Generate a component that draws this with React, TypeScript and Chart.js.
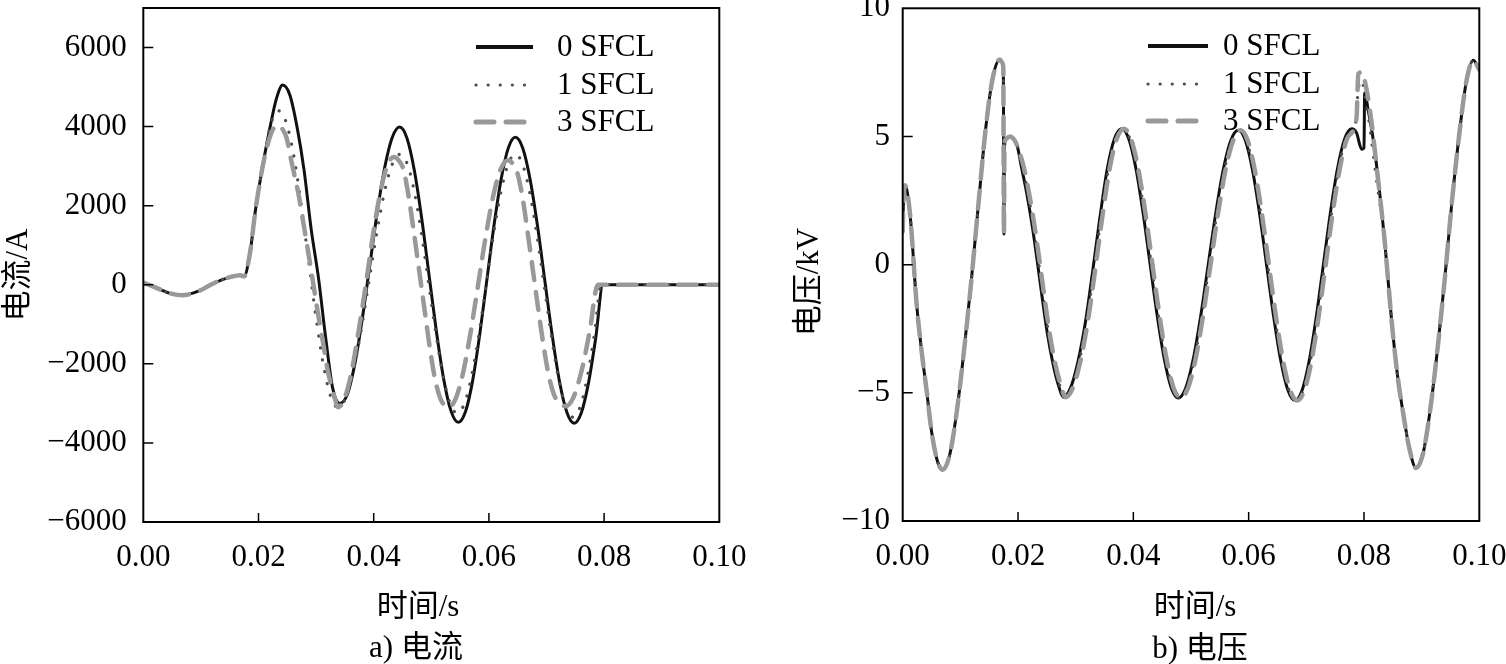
import React, { useEffect, useRef } from "react";
import { Chart, registerables } from "chart.js";

Chart.register(...registerables);

const FONT = "'Liberation Serif', 'Noto Sans CJK SC', serif";
const FONT_SIZE = 31;
const SERIES_LABELS = ["0 SFCL", "1 SFCL", "3 SFCL"];

// ---------- shared axis ticks ----------
const X_TICKS = [0, 0.02, 0.04, 0.06, 0.08, 0.1];
const CUR_Y_TICKS = [-6000, -4000, -2000, 0, 2000, 4000, 6000];
const VOL_Y_TICKS = [-10, -5, 0, 5, 10];

// ---------- (a) current, A ----------
const CUR_T_PRE = [0, 0.002, 0.0045, 0.0068, 0.0099, 0.0117, 0.0134, 0.0152, 0.0168, 0.0175];
const CUR_V_PRE = [55, -60, -210, -265, -140, 0, 113, 200, 240, 215];

const CUR_T_0 = [0.0186, 0.0194, 0.0206, 0.022, 0.0231, 0.0242, 0.02544, 0.02668, 0.02791, 0.02915, 0.03039, 0.03163, 0.03286, 0.0341, 0.0354, 0.0367, 0.038, 0.0393, 0.0406, 0.0419, 0.0432, 0.0445, 0.04578, 0.04705, 0.04833, 0.0496, 0.05088, 0.05215, 0.05343, 0.0547, 0.05594, 0.05718, 0.05841, 0.05965, 0.06089, 0.06213, 0.06336, 0.0646, 0.06588, 0.06715, 0.06843, 0.0697, 0.07098, 0.07225, 0.07353, 0.0748, 0.07605, 0.0773, 0.07855, 0.0798, 0.09, 0.1];
const CUR_V_0 = [880, 1810, 2900, 3980, 4700, 5050, 4800, 4000, 2900, 1400, 200, -1300, -2600, -3000, -2780, -2020, -880, 470, 1820, 2960, 3720, 3990, 3706, 2896, 1684, 255, -1174, -2386, -3196, -3480, -3206, -2424, -1255, 125, 1505, 2674, 3456, 3730, 3455, 2671, 1498, 115, -1268, -2441, -3225, -3500, -3234, -2475, -1340, 0, 0, 0];

const CUR_T_1 = [0.0186, 0.0194, 0.0206, 0.022, 0.0228, 0.0235, 0.02479, 0.02608, 0.02736, 0.02865, 0.02994, 0.03123, 0.03251, 0.0338, 0.03515, 0.0365, 0.03785, 0.0392, 0.04055, 0.0419, 0.04325, 0.0446, 0.04584, 0.04708, 0.04831, 0.04955, 0.05079, 0.05203, 0.05326, 0.0545, 0.05576, 0.05703, 0.05829, 0.05955, 0.06081, 0.06208, 0.06334, 0.0646, 0.06585, 0.0671, 0.06835, 0.0696, 0.07085, 0.0721, 0.07335, 0.0746, 0.07582, 0.07705, 0.07828, 0.0795, 0.09, 0.1];
const CUR_V_1 = [880, 1810, 2900, 3980, 4300, 4400, 4115, 3300, 2085, 650, -785, -2000, -2815, -3100, -2856, -2163, -1125, 100, 1325, 2363, 3056, 3300, 3051, 2341, 1278, 25, -1228, -2291, -3001, -3250, -3001, -2291, -1228, 25, 1278, 2341, 3051, 3300, 3047, 2326, 1247, -25, -1297, -2376, -3097, -3350, -3095, -2369, -1282, 0, 0, 0];

const CUR_T_3 = [0.0186, 0.0194, 0.0206, 0.0215, 0.0224, 0.0232, 0.0241, 0.0249, 0.0256, 0.0262, 0.027, 0.0277, 0.0286, 0.0294, 0.0303, 0.0312, 0.032, 0.0328, 0.0333, 0.0338, 0.035, 0.0362, 0.0374, 0.0387, 0.0399, 0.0411, 0.0423, 0.0435, 0.0443, 0.0452, 0.0461, 0.047, 0.0479, 0.0488, 0.0497, 0.0506, 0.0515, 0.0523, 0.053, 0.05429, 0.05558, 0.05686, 0.05815, 0.05944, 0.06073, 0.06201, 0.0633, 0.0641, 0.065, 0.0659, 0.0668, 0.0677, 0.0686, 0.0695, 0.0704, 0.0713, 0.0723, 0.0733, 0.0747, 0.0761, 0.0775, 0.0789, 0.09, 0.1];
const CUR_V_3 = [880, 1810, 2900, 3500, 3900, 4030, 3950, 3700, 3200, 2800, 2250, 1640, 850, 130, -700, -1460, -2150, -2650, -2900, -3100, -2850, -2170, -1150, 65, 1280, 2300, 2990, 3230, 3150, 2900, 2200, 1300, 350, -600, -1550, -2350, -2850, -3050, -3100, -2860, -2185, -1170, 25, 1220, 2235, 2910, 3150, 3070, 2800, 2150, 1250, 300, -650, -1550, -2300, -2780, -3000, -3070, -2840, -2170, -1175, 0, 0, 0];

// ---------- (b) voltage, kV ----------
const VOL_T_START = [0, 0.0001, 0.0004, 0.0013, 0.0024, 0.0034, 0.0042, 0.005, 0.006, 0.00694, 0.00818, 0.00942, 0.01066, 0.01191, 0.01315, 0.01439, 0.01563, 0.01687, 0.0172, 0.01745, 0.01755, 0.01765, 0.0179, 0.0186, 0.0194, 0.0199];
const VOL_V_START = [1.3, 2.2, 3.1, 1.9, -1.5, -3.6, -5.0, -6.5, -7.65, -8.0, -7.39, -5.66, -3.3, -0.6, 2.4, 5.3, 7.3, 8.0, 7.9, 7.7, 1.2, 4.6, 4.9, 5.0, 4.85, 4.6];

const VOL_T_TAIL = [0.0836, 0.0848, 0.0858, 0.0868, 0.0879, 0.08902, 0.09026, 0.09151, 0.09275, 0.09399, 0.09523, 0.09648, 0.09772, 0.09896, 0.1];
const VOL_V_TAIL = [0.9, -2.2, -4.3, -5.8, -7.2, -7.93, -7.35, -5.62, -3.3, -0.6, 2.4, 5.0, 7.1, 7.97, 7.6];

const VOL_T_0 = [0.0206, 0.0215, 0.0224, 0.0233, 0.0242, 0.0251, 0.0261, 0.027, 0.02785, 0.02912, 0.03038, 0.03165, 0.03292, 0.03418, 0.03545, 0.03671, 0.03798, 0.03921, 0.04044, 0.04166, 0.04289, 0.04412, 0.04535, 0.04657, 0.0478, 0.0491, 0.0504, 0.0517, 0.053, 0.0543, 0.0556, 0.0569, 0.0582, 0.05943, 0.06066, 0.06189, 0.06312, 0.06435, 0.06558, 0.06681, 0.06804, 0.06927, 0.0705, 0.07173, 0.07296, 0.07418, 0.07541, 0.07664, 0.07787, 0.0787, 0.0796, 0.08, 0.08012, 0.08075, 0.08162, 0.08248];
const VOL_V_0 = [3.8, 2.8, 1.6, 0.2, -1.3, -2.7, -3.9, -4.7, -5.17, -4.8, -3.8, -2.3, -0.3, 1.8, 3.7, 4.9, 5.3, 4.9, 3.76, 2.06, 0.05, -1.96, -3.66, -4.8, -5.2, -4.8, -3.67, -1.98, 0.02, 2.02, 3.71, 4.84, 5.24, 4.84, 3.7, 1.99, -0.03, -2.05, -3.76, -4.9, -5.3, -4.9, -3.75, -2.03, 0, 2.03, 3.75, 4.9, 5.3, 5.15, 4.5, 4.55, 6.7, 6.0, 4.85, 3.3];

const VOL_T_1 = [0.0208, 0.0217, 0.0226, 0.0235, 0.0244, 0.0253, 0.0263, 0.0272, 0.02805, 0.02932, 0.03058, 0.03185, 0.03312, 0.03438, 0.03565, 0.03691, 0.03818, 0.03941, 0.04064, 0.04186, 0.04309, 0.04432, 0.04555, 0.04677, 0.048, 0.0493, 0.0506, 0.0519, 0.0532, 0.0545, 0.0558, 0.0571, 0.0584, 0.05963, 0.06086, 0.06209, 0.06332, 0.06455, 0.06578, 0.06701, 0.06824, 0.06947, 0.0707, 0.07193, 0.07316, 0.07438, 0.07561, 0.07684, 0.07805, 0.0786, 0.079, 0.07954, 0.0802, 0.0811, 0.082];
const VOL_V_1 = [3.8, 2.8, 1.6, 0.2, -1.3, -2.7, -3.9, -4.7, -5.17, -4.8, -3.8, -2.3, -0.3, 1.8, 3.7, 4.9, 5.3, 4.9, 3.76, 2.06, 0.05, -1.96, -3.66, -4.8, -5.2, -4.8, -3.67, -1.98, 0.02, 2.02, 3.71, 4.84, 5.24, 4.84, 3.7, 1.99, -0.03, -2.05, -3.76, -4.9, -5.3, -4.9, -3.75, -2.03, 0, 2.03, 3.75, 4.9, 5.25, 5.6, 6.8, 7.2, 6.6, 5.2, 3.6];

const VOL_T_3 = [0.021, 0.0219, 0.0228, 0.0237, 0.0246, 0.0255, 0.0265, 0.0274, 0.02825, 0.02952, 0.03078, 0.03205, 0.03332, 0.03458, 0.03585, 0.03711, 0.03838, 0.03961, 0.04084, 0.04206, 0.04329, 0.04452, 0.04575, 0.04697, 0.0482, 0.0495, 0.0508, 0.0521, 0.0534, 0.0547, 0.056, 0.0573, 0.0586, 0.05983, 0.06106, 0.06229, 0.06352, 0.06475, 0.06598, 0.06721, 0.06844, 0.06967, 0.0709, 0.07213, 0.07336, 0.07458, 0.07581, 0.07704, 0.07815, 0.07873, 0.07901, 0.0796, 0.08047, 0.08134, 0.0822];
const VOL_V_3 = [3.8, 2.8, 1.6, 0.2, -1.3, -2.7, -3.9, -4.7, -5.17, -4.8, -3.8, -2.3, -0.3, 1.8, 3.7, 4.9, 5.3, 4.9, 3.76, 2.06, 0.05, -1.96, -3.66, -4.8, -5.2, -4.8, -3.67, -1.98, 0.02, 2.02, 3.71, 4.84, 5.24, 4.84, 3.7, 1.99, -0.03, -2.05, -3.76, -4.9, -5.3, -4.9, -3.75, -2.03, 0, 2.03, 3.75, 4.9, 5.24, 5.8, 7.45, 7.5, 6.8, 5.5, 3.8];

// ---------- styles ----------
type Style = { color: string; width: number; dash: number[]; cap: CanvasLineCap; legendWidth: number };
const STYLES: Style[] = [
  { color: "#111111", width: 3, dash: [], cap: "butt", legendWidth: 4 },
  { color: "#4d4d4d", width: 3.2, dash: [0.1, 12], cap: "round", legendWidth: 3.2 },
  { color: "#999999", width: 4.5, dash: [18, 12], cap: "round", legendWidth: 5 },
];

type Series = { t: number[]; v: number[] };

type Cfg = {
  ox: number; oy: number; w: number; h: number;
  padLeft: number; padTop: number; padRight: number;
  yAxisWidth: number; xAxisHeight: number;
  yMin: number; yMax: number; yTicks: number[]; yPad: number;
  series: Series[];
  yTitle: string; yTitleX: number; yTitleY: number;
  xTitle: string; xTitleX: number; xTitleY: number;
  caption: string; captionX: number; captionY: number;
  legX1: number; legX2: number; legTextX: number; legRows: number[];
};

const fmtY = (v: number) => (v < 0 ? "\u2212" + Math.abs(v) : String(v));

function makeDeco(cfg: Cfg) {
  return {
    id: "deco" + cfg.ox,
    afterDatasetsDraw(chart: any) {
      const { ctx, chartArea: a, scales } = chart;
      ctx.save();
      ctx.strokeStyle = "#000";
      ctx.lineWidth = 2;
      ctx.setLineDash([]);
      ctx.strokeRect(a.left, a.top, a.right - a.left, a.bottom - a.top);
      ctx.lineWidth = 1.5;
      ctx.beginPath();
      scales.x.ticks.forEach((t: any) => {
        const px = scales.x.getPixelForValue(t.value);
        if (px > a.left + 2 && px < a.right - 2) {
          ctx.moveTo(px, a.bottom);
          ctx.lineTo(px, a.bottom - 9);
        }
      });
      scales.y.ticks.forEach((t: any) => {
        const py = scales.y.getPixelForValue(t.value);
        if (py > a.top + 2 && py < a.bottom - 2) {
          ctx.moveTo(a.left, py);
          ctx.lineTo(a.left + 10, py);
        }
      });
      ctx.stroke();
      ctx.restore();
    },
    afterDraw(chart: any) {
      const { ctx } = chart;
      const ox = cfg.ox, oy = cfg.oy;
      ctx.save();
      ctx.fillStyle = "#000";
      ctx.font = `${FONT_SIZE}px ${FONT}`;
      ctx.textAlign = "center";
      ctx.textBaseline = "middle";
      ctx.fillText(cfg.xTitle, cfg.xTitleX - ox, cfg.xTitleY - oy);
      ctx.fillText(cfg.caption, cfg.captionX - ox, cfg.captionY - oy);
      ctx.save();
      ctx.translate(cfg.yTitleX - ox, cfg.yTitleY - oy);
      ctx.rotate(-Math.PI / 2);
      ctx.fillText(cfg.yTitle, 0, 0);
      ctx.restore();
      // legend
      SERIES_LABELS.forEach((lab, i) => {
        const s = STYLES[i];
        const y = cfg.legRows[i] - oy;
        ctx.save();
        ctx.strokeStyle = s.color;
        ctx.lineWidth = s.legendWidth;
        ctx.lineCap = s.cap;
        ctx.setLineDash(s.dash);
        ctx.beginPath();
        ctx.moveTo(cfg.legX1 - ox, y);
        ctx.lineTo(cfg.legX2 - ox, y);
        ctx.stroke();
        ctx.restore();
        ctx.textAlign = "left";
        ctx.fillText(lab, cfg.legTextX - ox, y + 1);
      });
      ctx.restore();
    },
  };
}

function buildConfig(cfg: Cfg): any {
  return {
    type: "line",
    data: {
      datasets: cfg.series.map((s, i) => ({
        label: SERIES_LABELS[i],
        data: s.t.map((t, j) => ({ x: t, y: s.v[j] })),
        borderColor: STYLES[i].color,
        borderWidth: STYLES[i].width,
        borderDash: STYLES[i].dash,
        borderCapStyle: STYLES[i].cap,
        borderJoinStyle: "round",
        pointRadius: 0,
        fill: false,
        cubicInterpolationMode: "monotone",
        order: 2 - i,
      })),
    },
    options: {
      responsive: false,
      animation: false,
      devicePixelRatio: 1,
      layout: { padding: { left: cfg.padLeft, top: cfg.padTop, right: cfg.padRight, bottom: 0 } },
      plugins: { legend: { display: false }, tooltip: { enabled: false }, title: { display: false } },
      scales: {
        x: {
          type: "linear",
          min: 0,
          max: 0.1,
          grid: { display: false, drawTicks: false },
          border: { display: false },
          ticks: {
            font: { family: FONT, size: FONT_SIZE, lineHeight: 1.2 },
            color: "#000",
            padding: 17,
            maxRotation: 0,
            autoSkip: false,
            callback: (v: any) => Number(v).toFixed(2),
          },
          afterBuildTicks: (s: any) => {
            s.ticks = X_TICKS.map((v) => ({ value: v }));
          },
          afterFit: (s: any) => {
            s.height = cfg.xAxisHeight;
          },
        },
        y: {
          type: "linear",
          min: cfg.yMin,
          max: cfg.yMax,
          grid: { display: false, drawTicks: false },
          border: { display: false },
          ticks: {
            font: { family: FONT, size: FONT_SIZE, lineHeight: 1.2 },
            color: "#000",
            padding: cfg.yPad,
            autoSkip: false,
            callback: (v: any) => fmtY(Number(v)),
          },
          afterBuildTicks: (s: any) => {
            s.ticks = cfg.yTicks.map((v) => ({ value: v }));
          },
          afterFit: (s: any) => {
            s.width = cfg.yAxisWidth;
          },
        },
      },
    },
    plugins: [makeDeco(cfg)],
  };
}

function LineChart({ cfg }: { cfg: Cfg }) {
  const ref = useRef<HTMLCanvasElement>(null);
  useEffect(() => {
    const chart = new Chart(ref.current as HTMLCanvasElement, buildConfig(cfg));
    return () => chart.destroy();
  }, []);
  return (
    <canvas
      ref={ref}
      width={cfg.w}
      height={cfg.h}
      style={{ position: "absolute", left: cfg.ox, top: cfg.oy, width: cfg.w, height: cfg.h }}
    />
  );
}

const CURRENT_CFG: Cfg = {
  ox: -60, oy: -60, w: 860, h: 724,
  padLeft: 60, padTop: 68, padRight: 80.7,
  yAxisWidth: 143.3, xAxisHeight: 142,
  yMin: -6000, yMax: 7000, yTicks: CUR_Y_TICKS, yPad: 16.5,
  series: [
    { t: [...CUR_T_PRE, ...CUR_T_0], v: [...CUR_V_PRE, ...CUR_V_0] },
    { t: [...CUR_T_PRE, ...CUR_T_1], v: [...CUR_V_PRE, ...CUR_V_1] },
    { t: [...CUR_T_PRE, ...CUR_T_3], v: [...CUR_V_PRE, ...CUR_V_3] },
  ],
  yTitle: "电流/A", yTitleX: 19, yTitleY: 275,
  xTitle: "时间/s", xTitleX: 418, xTitleY: 608,
  caption: "a) 电流", captionX: 416, captionY: 649,
  legX1: 476, legX2: 533, legTextX: 557, legRows: [47, 85, 122],
};

const VOLTAGE_CFG: Cfg = {
  ox: 760, oy: -60, w: 806, h: 724,
  padLeft: 0, padTop: 68.3, padRight: 86.7,
  yAxisWidth: 142.7, xAxisHeight: 143,
  yMin: -10, yMax: 10, yTicks: VOL_Y_TICKS, yPad: 12.7,
  series: [
    { t: [...VOL_T_START, ...VOL_T_0, ...VOL_T_TAIL], v: [...VOL_V_START, ...VOL_V_0, ...VOL_V_TAIL] },
    { t: [...VOL_T_START, ...VOL_T_1, ...VOL_T_TAIL], v: [...VOL_V_START, ...VOL_V_1, ...VOL_V_TAIL] },
    { t: [...VOL_T_START, ...VOL_T_3, ...VOL_T_TAIL], v: [...VOL_V_START, ...VOL_V_3, ...VOL_V_TAIL] },
  ],
  yTitle: "电压/kV", yTitleX: 810, yTitleY: 282,
  xTitle: "时间/s", xTitleX: 1195, xTitleY: 608,
  caption: "b) 电压", captionX: 1200, captionY: 650,
  legX1: 1148, legX2: 1208, legTextX: 1223, legRows: [46, 84, 121],
};

export default function App() {
  return (
    <div
      style={{
        position: "absolute",
        left: 0,
        top: 0,
        width: 1506,
        height: 664,
        overflow: "hidden",
        background: "#fff",
      }}
    >
      <LineChart cfg={CURRENT_CFG} />
      <LineChart cfg={VOLTAGE_CFG} />
    </div>
  );
}
